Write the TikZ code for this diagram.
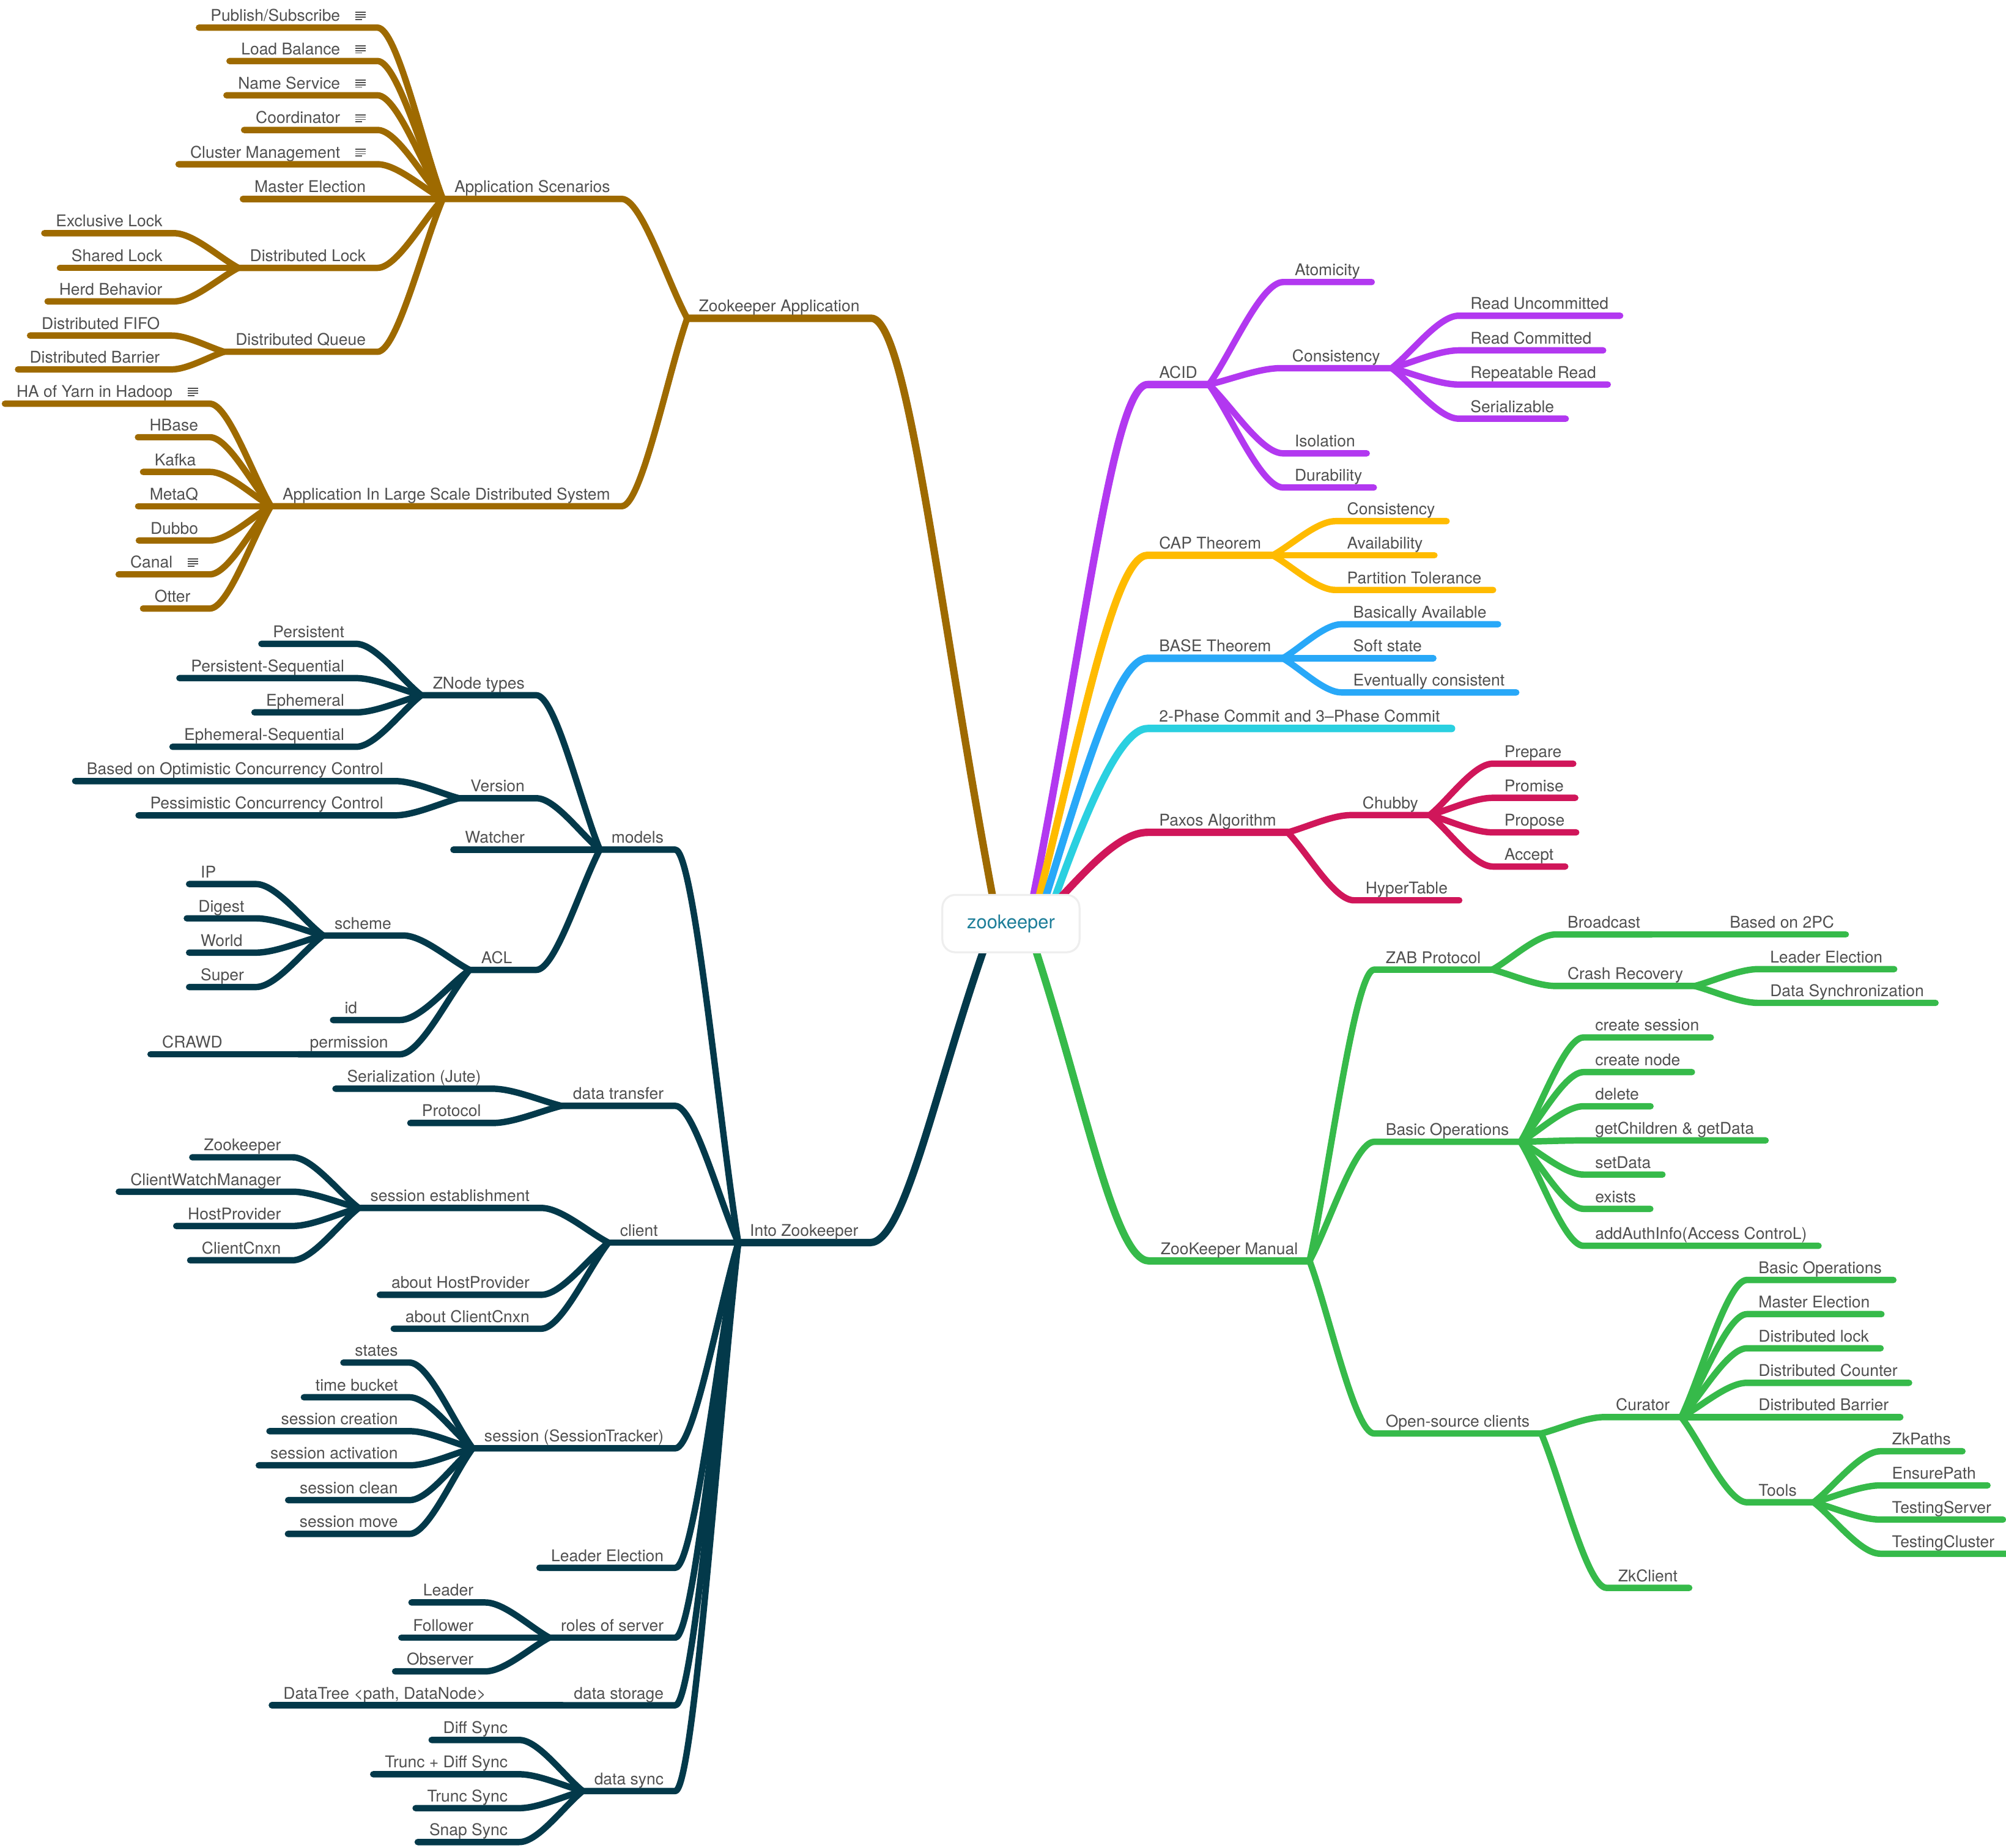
\documentclass[tikz,border=0pt]{standalone}
\usepackage{fontspec}
\setmainfont{TeX Gyre Heros}
\usetikzlibrary{calc}
\pgfdeclarelayer{bg}
\pgfsetlayers{bg,main}

\definecolor{brw}{RGB}{158,106,0}
\definecolor{navy}{RGB}{3,57,74}
\definecolor{pur}{RGB}{178,56,240}
\definecolor{yel}{RGB}{255,187,0}
\definecolor{blu}{RGB}{40,168,248}
\definecolor{cya}{RGB}{42,208,224}
\definecolor{crim}{RGB}{208,22,90}
\definecolor{grn}{RGB}{54,186,74}
\definecolor{txt}{RGB}{80,80,80}
\definecolor{rootc}{RGB}{30,126,153}
\definecolor{rootbd}{RGB}{238,238,238}

\newcommand{\noteicon}{\hspace{0.3cm}{\color{txt}\raisebox{0.6pt}{\vbox{\hrule width 5.7pt height 0.6pt\vskip 0.72pt\hrule width 5.7pt height 0.6pt\vskip 0.72pt\hrule width 5.7pt height 0.6pt\vskip 0.72pt\hrule width 3.6pt height 0.6pt}}}\hspace{0.11cm}}
\newcommand{\lfan}[3]{\foreach \nd in {#3} \draw[ln=#1] (#2.south west) to[br] (\nd.south east) -- (\nd.south west);}
\newcommand{\rfan}[3]{\foreach \nd in {#3} \draw[ln=#1] (#2.south east) to[br] (\nd.south west) -- (\nd.south east);}

\begin{document}
\begin{tikzpicture}[x=0.025cm,y=-0.025cm,
  topic/.style={font=\fontsize{9}{10}\selectfont,text=txt,inner xsep=0.22cm,inner ysep=0pt,text height=6.8pt,text depth=3.4pt},
  rt/.style={topic,anchor=south west},
  lt/.style={topic,anchor=south east},
  mw/.style={text width=0.85cm,align=left},
  ln/.style={draw=#1,line width=0.125cm,line cap=round,line join=round},
  lnm/.style={draw=#1,line width=0.145cm,line cap=round,line join=round},
  br/.style={to path={let \p1=(\tikztostart), \p2=(\tikztotarget) in
    .. controls ({\x1+#1*(\x2-\x1)},{\y1+#1*(\y2-\y1)}) and ({\x2+0.3*(\x1-\x2)},\y2) .. (\tikztotarget)}},
  br/.default=0.3,
  brm/.style={to path={let \p1=(\tikztostart), \p2=(\tikztotarget) in
    .. controls ({\x1+#1*(\x2-\x1)},{0.5*(\y1+\y2)}) and ({\x2+0.3*(\x1-\x2)},\y2) .. (\tikztotarget)}},
  root/.style={draw=rootbd,line width=1.1pt,fill=white,rounded corners=0.25cm,
    minimum width=2.68cm,minimum height=1.12cm,inner sep=0pt,text=rootc,
    font=\fontsize{10.5}{12}\selectfont}]
  \useasboundingbox (0,0) rectangle (1568,1444.6);

  % centre
  \node[root] (zk) at (790.2,722) {zookeeper};
  \coordinate (sB)  at ($(zk)+(-13.3,-15.8)$);
  \coordinate (sN)  at ($(zk)+(-19.8,16.2)$);
  \coordinate (sP)  at ($(zk)+(16.5,-15.8)$);
  \coordinate (sY)  at ($(zk)+(20.7,-15.8)$);
  \coordinate (sBl) at ($(zk)+(25.6,-15.8)$);
  \coordinate (sC)  at ($(zk)+(32.8,-15.8)$);
  \coordinate (sR)  at ($(zk)+(34.5,-15.8)$);
  \coordinate (sG)  at ($(zk)+(17.9,16.2)$);

  % Zookeeper Application
  \node[lt] (za)    at (681,248.8) {Zookeeper Application};
  \node[lt] (asc)   at (486,155.5) {Application Scenarios};
  \node[lt] (pub)   at (295,21.6)  {Publish/Subscribe\noteicon};
  \node[lt] (lbal)  at (295,47.7)  {Load Balance\noteicon};
  \node[lt] (nsrv)  at (295,74.5)  {Name Service\noteicon};
  \node[lt] (coord) at (295,101.6) {Coordinator\noteicon};
  \node[lt] (clm)   at (295,128.4) {Cluster Management\noteicon};
  \node[lt] (mel)   at (295,155.5) {Master Election};
  \node[lt] (dlk)   at (295,209.4) {Distributed Lock};
  \node[lt] (exl)   at (136,182.3) {Exclusive Lock};
  \node[lt] (shl)   at (136,209.4) {Shared Lock};
  \node[lt] (herd)  at (136,235.6) {Herd Behavior};
  \node[lt] (dq)    at (295,275)   {Distributed Queue};
  \node[lt] (dfifo) at (134,262.3) {Distributed FIFO};
  \node[lt] (dbar)  at (134,288.8) {Distributed Barrier};
  \node[lt] (als)   at (486,395.7) {Application In Large Scale Distributed System};
  \node[lt] (hay)   at (164,315.6) {HA of Yarn in Hadoop\noteicon};
  \node[lt] (hbase) at (164,341.8) {HBase};
  \node[lt,mw] (kafka) at (164,368.9) {Kafka};
  \node[lt] (metaq) at (164,395.7) {MetaQ};
  \node[lt] (dubbo) at (164,422.5) {Dubbo};
  \node[lt] (canal) at (164,449)   {Canal\noteicon};
  \node[lt,mw] (otter) at (164,475.7) {Otter};

  % Into Zookeeper
  \node[lt] (iz)    at (680,971.4) {Into Zookeeper};
  \node[lt] (mod)   at (527.8,664.2) {models};
  \node[lt] (znt)   at (419.2,543.5) {ZNode types};
  \node[lt] (per)   at (278.2,503.3) {Persistent};
  \node[lt] (pers)  at (278.2,530.1) {Persistent-Sequential};
  \node[lt] (eph)   at (278.2,556.9) {Ephemeral};
  \node[lt] (ephs)  at (278.2,583.8) {Ephemeral-Sequential};
  \node[lt] (ver)   at (419.2,624)   {Version};
  \node[lt] (occ)   at (308.7,610.6) {Based on Optimistic Concurrency Control};
  \node[lt] (pcc)   at (308.7,637.4) {Pessimistic Concurrency Control};
  \node[lt] (wat)   at (419.2,664.2) {Watcher};
  \node[lt,mw] (acl) at (419.2,758.2) {ACL};
  \node[lt] (sch)   at (315,731.3)   {scheme};
  \node[lt,mw] (ip)  at (200,691.1) {IP};
  \node[lt] (dig)   at (200,717.9)   {Digest};
  \node[lt,mw] (wor) at (200,744.7) {World};
  \node[lt,mw] (sup) at (200,771.6) {Super};
  \node[lt,mw] (aid) at (312.5,797.4) {id};
  \node[lt] (perm)  at (312.5,824.2) {permission};
  \node[lt] (crawd) at (183,824.2)   {CRAWD};
  \node[lt] (dtr)   at (527.8,864.5) {data transfer};
  \node[lt] (ser)   at (385,851.1)   {Serialization (Jute)};
  \node[lt] (prot)  at (385,877.9)   {Protocol};
  \node[lt,mw] (cli) at (527.8,971.4) {client};
  \node[lt] (ses)   at (423,944.3)   {session establishment};
  \node[lt] (czk)   at (228.7,904.7) {Zookeeper};
  \node[lt] (cwm)   at (228.7,931.6) {ClientWatchManager};
  \node[lt] (chp)   at (228.7,958.4) {HostProvider};
  \node[lt] (ccx)   at (228.7,985.2) {ClientCnxn};
  \node[lt] (ahp)   at (423,1012.2)  {about HostProvider};
  \node[lt] (acx)   at (423,1038.7)  {about ClientCnxn};
  \node[lt] (sst)   at (527.8,1132.2) {session (SessionTracker)};
  \node[lt] (sta)   at (320.1,1065.2) {states};
  \node[lt] (tbk)   at (320.1,1092.3) {time bucket};
  \node[lt] (scr)   at (320.1,1118.8) {session creation};
  \node[lt] (sac)   at (320.1,1145.5) {session activation};
  \node[lt] (scl)   at (320.1,1172.7) {session clean};
  \node[lt] (smv)   at (320.1,1199.1) {session move};
  \node[lt] (lel)   at (527.8,1225.6) {Leader Election};
  \node[lt] (ros)   at (527.8,1280.2) {roles of server};
  \node[lt] (ldr)   at (379.2,1252.7) {Leader};
  \node[lt] (fol)   at (379.2,1280.2) {Follower};
  \node[lt] (obs)   at (379.2,1306.6) {Observer};
  \node[lt] (dst)   at (527.8,1333.1) {data storage};
  \node[lt] (dtree) at (389,1333.1)   {DataTree <path, DataNode>};
  \node[lt] (dsy)   at (527.8,1400.1) {data sync};
  \node[lt] (dfs)   at (405.9,1360.2) {Diff Sync};
  \node[lt] (tds)   at (405.9,1387)   {Trunc + Diff Sync};
  \node[lt] (trs)   at (405.9,1413.5) {Trunc Sync};
  \node[lt] (sns)   at (405.9,1440)   {Snap Sync};

  % right side
  \node[rt] (acid)  at (897,300.6)  {ACID};
  \node[rt] (atom)  at (1003,220.5) {Atomicity};
  \node[rt] (cons)  at (1001,287.8) {Consistency};
  \node[rt] (ru)    at (1140.3,246.8) {Read Uncommitted};
  \node[rt] (rc)    at (1140.3,273.9) {Read Committed};
  \node[rt] (rr)    at (1140.3,300.6) {Repeatable Read};
  \node[rt] (srz)   at (1140.3,327.3) {Serializable};
  \node[rt] (iso)   at (1003,354.4) {Isolation};
  \node[rt] (dur)   at (1003,381.1) {Durability};
  \node[rt] (cap)   at (897,434.1)  {CAP Theorem};
  \node[rt] (ccon)  at (1043.9,407.4) {Consistency};
  \node[rt] (cav)   at (1043.9,434.1) {Availability};
  \node[rt] (cpt)   at (1043.9,461.2) {Partition Tolerance};
  \node[rt] (base)  at (897,514.6)  {BASE Theorem};
  \node[rt] (bba)   at (1048.7,488)   {Basically Available};
  \node[rt] (bss)   at (1048.7,514.6) {Soft state};
  \node[rt] (bec)   at (1048.7,541.3) {Eventually consistent};
  \node[rt] (tpc)   at (897,569.5)  {2-Phase Commit and 3–Phase Commit};
  \node[rt] (pax)   at (897,650.7)  {Paxos Algorithm};
  \node[rt] (chub)  at (1056,637.2) {Chubby};
  \node[rt] (prep)  at (1166.8,597)   {Prepare};
  \node[rt] (prom)  at (1166.8,623.7) {Promise};
  \node[rt] (prop)  at (1166.8,650.7) {Propose};
  \node[rt] (acc)   at (1166.8,677.4) {Accept};
  \node[rt] (hyp)   at (1058.3,703.8) {HyperTable};

  \node[rt] (zkm)   at (898.2,985.7) {ZooKeeper Manual};
  \node[rt] (zab)   at (1074.1,758)  {ZAB Protocol};
  \node[rt] (bc)    at (1216.2,730.5) {Broadcast};
  \node[rt] (b2pc)  at (1343,730.5)   {Based on 2PC};
  \node[rt] (crr)   at (1216.2,770.8) {Crash Recovery};
  \node[rt] (cle)   at (1374.5,757.6) {Leader Election};
  \node[rt] (cds)   at (1374.5,784)   {Data Synchronization};
  \node[rt] (bop)   at (1074.1,892.6) {Basic Operations};
  \node[rt] (o1)    at (1237.8,811)   {create session};
  \node[rt] (o2)    at (1237.8,838.1) {create node};
  \node[rt] (o3)    at (1237.8,864.8) {delete};
  \node[rt] (o4)    at (1237.8,891.5) {getChildren \& getData};
  \node[rt] (o5)    at (1237.8,918.2) {setData};
  \node[rt,mw] (o6) at (1237.8,945)   {exists};
  \node[rt] (o7)    at (1237.8,973.9) {addAuthInfo(Access ControL)};
  \node[rt] (osc)   at (1074.1,1120.6) {Open-source clients};
  \node[rt] (cur)   at (1254,1107.8)   {Curator};
  \node[rt] (cu1)   at (1365.5,1000.6) {Basic Operations};
  \node[rt] (cu2)   at (1365.5,1027.3) {Master Election};
  \node[rt] (cu3)   at (1365.5,1054)   {Distributed lock};
  \node[rt] (cu4)   at (1365.5,1081)   {Distributed Counter};
  \node[rt] (cu5)   at (1365.5,1107.8) {Distributed Barrier};
  \node[rt,mw] (tools) at (1365.5,1174.4) {Tools};
  \node[rt] (tl1)   at (1469.8,1134.5) {ZkPaths};
  \node[rt] (tl2)   at (1469.8,1161.2) {EnsurePath};
  \node[rt] (tl3)   at (1469.8,1187.9) {TestingServer};
  \node[rt] (tl4)   at (1469.8,1214.6) {TestingCluster};
  \node[rt] (zkc)   at (1255.8,1241.3) {ZkClient};

  % main branches, under the centre box
  \begin{pgfonlayer}{bg}
    \draw[lnm=brw]  (sB)  to[brm=0.45] (za.south east)   -- (za.south west);
    \draw[lnm=navy] (sN)  to[brm=0.45] (iz.south east)   -- (iz.south west);
    \draw[lnm=pur]  (sP)  to[brm=0.45] (acid.south west) -- (acid.south east);
    \draw[lnm=yel]  (sY)  to[brm=0.4]  (cap.south west)  -- (cap.south east);
    \draw[lnm=blu]  (sBl) to[brm=0.37] (base.south west) -- (base.south east);
    \draw[lnm=cya]  (sC)  to[brm=0.33] (tpc.south west)  -- (tpc.south east);
    \draw[lnm=crim] (sR)  to[brm=0.36] (pax.south west)  -- (pax.south east);
    \draw[lnm=grn]  (sG)  to[brm=0.45] (zkm.south west)  -- (zkm.south east);
  \end{pgfonlayer}

  % sub branches
  \lfan{brw}{za}{asc,als}
  \lfan{brw}{asc}{pub,lbal,nsrv,coord,clm,mel,dlk,dq}
  \lfan{brw}{dlk}{exl,shl,herd}
  \lfan{brw}{dq}{dfifo,dbar}
  \lfan{brw}{als}{hay,hbase,kafka,metaq,dubbo,canal,otter}

  \lfan{navy}{iz}{mod,dtr,cli,sst,lel,ros,dst,dsy}
  \lfan{navy}{mod}{znt,ver,wat,acl}
  \lfan{navy}{znt}{per,pers,eph,ephs}
  \lfan{navy}{ver}{occ,pcc}
  \lfan{navy}{acl}{sch,aid,perm}
  \lfan{navy}{sch}{ip,dig,wor,sup}
  \lfan{navy}{perm}{crawd}
  \lfan{navy}{dtr}{ser,prot}
  \lfan{navy}{cli}{ses,ahp,acx}
  \lfan{navy}{ses}{czk,cwm,chp,ccx}
  \lfan{navy}{sst}{sta,tbk,scr,sac,scl,smv}
  \lfan{navy}{ros}{ldr,fol,obs}
  \lfan{navy}{dst}{dtree}
  \lfan{navy}{dsy}{dfs,tds,trs,sns}

  \rfan{pur}{acid}{atom,cons,iso,dur}
  \rfan{pur}{cons}{ru,rc,rr,srz}
  \rfan{yel}{cap}{ccon,cav,cpt}
  \rfan{blu}{base}{bba,bss,bec}
  \rfan{crim}{pax}{chub,hyp}
  \rfan{crim}{chub}{prep,prom,prop,acc}

  \rfan{grn}{zkm}{zab,bop,osc}
  \rfan{grn}{zab}{bc,crr}
  \rfan{grn}{bc}{b2pc}
  \rfan{grn}{crr}{cle,cds}
  \rfan{grn}{bop}{o1,o2,o3,o4,o5,o6,o7}
  \rfan{grn}{osc}{cur,zkc}
  \rfan{grn}{cur}{cu1,cu2,cu3,cu4,cu5,tools}
  \rfan{grn}{tools}{tl1,tl2,tl3,tl4}
\end{tikzpicture}
\end{document}
